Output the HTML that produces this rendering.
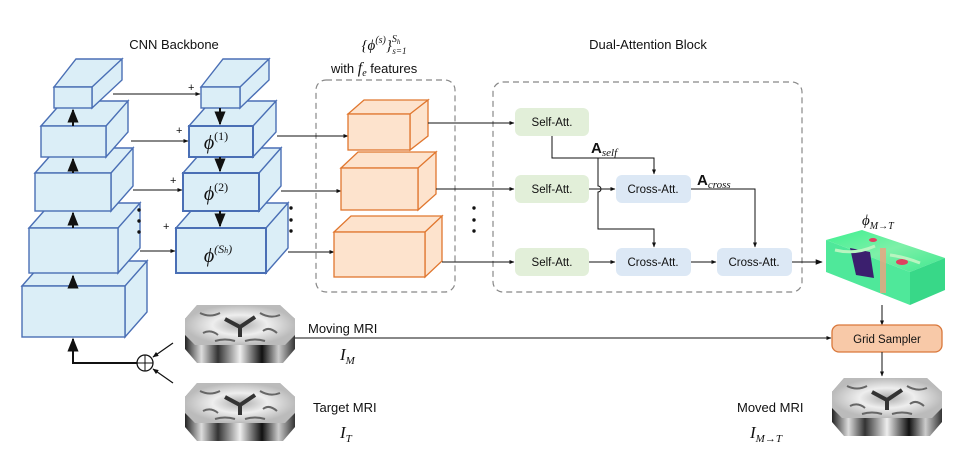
<!DOCTYPE html>
<html><head><meta charset="utf-8"><style>
html,body{margin:0;padding:0;background:#fff;}
svg{display:block;}
text{font-family:"Liberation Sans",sans-serif;fill:#111;}
.m{font-family:"Liberation Serif",serif;font-style:italic;}
</style></head><body>
<svg width="970" height="453" viewBox="0 0 970 453" xmlns="http://www.w3.org/2000/svg">
<defs>
<marker id="a" viewBox="0 0 10 10" refX="9" refY="5" markerWidth="7" markerHeight="7" orient="auto"><path d="M0,1 L10,5 L0,9 z" fill="#111"/></marker>
<marker id="b" viewBox="0 0 10 10" refX="9" refY="5" markerWidth="5" markerHeight="5" orient="auto"><path d="M0,1 L10,5 L0,9 z" fill="#111"/></marker>
<linearGradient id="side" x1="0" x2="1"><stop offset="0" stop-color="#222"/><stop offset=".15" stop-color="#ddd"/><stop offset=".3" stop-color="#333"/><stop offset=".5" stop-color="#eee"/><stop offset=".7" stop-color="#111"/><stop offset=".85" stop-color="#ccc"/><stop offset="1" stop-color="#333"/></linearGradient>
<radialGradient id="top"><stop offset="0" stop-color="#aaa"/><stop offset=".5" stop-color="#eee"/><stop offset="1" stop-color="#bbb"/></radialGradient>
<linearGradient id="flow" x1="0" y1="0" x2="1" y2="1"><stop offset="0" stop-color="#3df090"/><stop offset=".5" stop-color="#7ef0a8"/><stop offset="1" stop-color="#40e890"/></linearGradient>
<g id="brain">
<path d="M12,0 H95 L110,14 V44 L98,58 H12 L0,44 V14 Z" fill="url(#side)"/>
<path d="M12,0 H95 L110,14 V30 L100,40 H10 L0,30 V14 Z" fill="url(#top)"/>
<path d="M40,14 L55,22 L70,12 M55,22 L55,32" stroke="#333" stroke-width="4" fill="none"/>
<path d="M15,8 q10,5 20,0 M75,8 q10,6 20,2 M18,28 q8,-4 15,2 M78,26 q6,-5 14,2 M30,36 q10,-3 20,0 M60,36 q10,-3 20,0" stroke="#666" stroke-width="2" fill="none"/>
</g>
</defs>

<!-- titles -->
<text x="174" y="49" font-size="13" text-anchor="middle">CNN Backbone</text>
<text x="384" y="50" font-size="15" text-anchor="middle" class="m">{ϕ<tspan font-size="10" dy="-7">(s)</tspan><tspan dy="7">}</tspan><tspan font-size="10" dy="-8">S</tspan><tspan font-size="7" dy="2">h</tspan><tspan font-size="9" dx="-8" dy="10">s=1</tspan></text>
<text x="331" y="73" font-size="13">with <tspan class="m" font-size="16">f</tspan><tspan class="m" font-size="10" dy="3">e</tspan><tspan dy="-3"> features</tspan></text>
<text x="648" y="49" font-size="13" text-anchor="middle">Dual-Attention Block</text>

<!-- cubes -->
<g fill="#dbeef7" stroke="#4a6fb5" stroke-width="1.4">
<!-- left column (bottom first) -->
<path d="M22,286 L44,261 L147,261 L125,286 Z M125,286 L147,261 V312 L125,337 Z"/><rect x="22" y="286" width="103" height="51"/>
<path d="M29,228 L51,203 L140,203 L118,228 Z M118,228 L140,203 V248 L118,273 Z"/><rect x="29" y="228" width="89" height="45"/>
<path d="M35,173 L57,148 L133,148 L111,173 Z M111,173 L133,148 V186 L111,211 Z"/><rect x="35" y="173" width="76" height="38"/>
<path d="M41,126 L63,101 L128,101 L106,126 Z M106,126 L128,101 V132 L106,157 Z"/><rect x="41" y="126" width="65" height="31"/>
<path d="M54,87 L76,59 L122,59 L92,87 Z M92,87 L122,59 V80 L92,108 Z"/><rect x="54" y="87" width="38" height="21"/>
<!-- right column (bottom first) -->
<path d="M176,228 L198,203 L288,203 L266,228 Z M266,228 L288,203 V248 L266,273 Z"/><rect x="176" y="228" width="90" height="45" stroke-width="2"/>
<path d="M183,173 L205,148 L281,148 L259,173 Z M259,173 L281,148 V186 L259,211 Z"/><rect x="183" y="173" width="76" height="38" stroke-width="2"/>
<path d="M189,126 L211,101 L276,101 L253,126 Z M253,126 L276,101 V132 L253,157 Z"/><rect x="189" y="126" width="64" height="31" stroke-width="2"/>
<path d="M201,87 L223,59 L269,59 L240,87 Z M240,87 L269,59 V80 L240,108 Z"/><rect x="201" y="87" width="39" height="21"/>
</g>
<g font-size="20" class="m" text-anchor="middle"><text x="216" y="149" class="m">ϕ<tspan font-size="12" dy="-9" font-style="normal">(1)</tspan></text>
<text x="216" y="200" class="m">ϕ<tspan font-size="12" dy="-9" font-style="normal">(2)</tspan></text>
<text x="218" y="262" class="m">ϕ<tspan font-size="12" dy="-9">(S<tspan font-size="8">h</tspan>)</tspan></text></g>

<!-- backbone arrows -->
<g stroke="#111" stroke-width="2" marker-end="url(#a)">
<line x1="73" y1="286" x2="73" y2="276"/><line x1="73" y1="228" x2="73" y2="213"/><line x1="73" y1="173" x2="73" y2="159"/><line x1="73" y1="126" x2="73" y2="110"/>
<line x1="220" y1="108" x2="220" y2="124"/><line x1="220" y1="157" x2="220" y2="171"/><line x1="220" y1="211" x2="220" y2="226"/>
</g>
<g stroke="#111" stroke-width="1" marker-end="url(#b)">
<line x1="113" y1="94" x2="200" y2="94"/><line x1="131" y1="141" x2="188" y2="141"/><line x1="133" y1="190" x2="182" y2="190"/><line x1="140" y1="251" x2="175" y2="251"/>
</g>
<g font-size="11"><text x="188" y="91">+</text><text x="176" y="134">+</text><text x="170" y="184">+</text><text x="163" y="230">+</text></g>
<g fill="#111"><circle cx="139" cy="210" r="1.7"/><circle cx="139" cy="221" r="1.7"/><circle cx="139" cy="232" r="1.7"/>
<circle cx="291" cy="208" r="1.7"/><circle cx="291" cy="220" r="1.7"/><circle cx="291" cy="231" r="1.7"/>
<circle cx="474" cy="208" r="1.7"/><circle cx="474" cy="220" r="1.7"/><circle cx="474" cy="231" r="1.7"/></g>

<!-- dashed boxes -->
<rect x="316" y="80" width="139" height="212" rx="10" fill="none" stroke="#888" stroke-width="1.2" stroke-dasharray="6,4"/>
<rect x="493" y="82" width="309" height="210" rx="10" fill="none" stroke="#888" stroke-width="1.2" stroke-dasharray="6,4"/>

<!-- lines to orange -->
<g stroke="#111" stroke-width="1"><line x1="277" y1="136" x2="348" y2="136" marker-end="url(#b)"/><line x1="281" y1="191" x2="341" y2="191" marker-end="url(#b)"/><line x1="288" y1="252" x2="334" y2="252" marker-end="url(#b)"/></g>
<!-- orange cubes -->
<g fill="#fde3cd" stroke="#e0772f" stroke-width="1.3">
<path d="M334,232 L351,216 L442,216 L425,232 Z M425,232 L442,216 V261 L425,277 Z"/><rect x="334" y="232" width="91" height="45"/>
<path d="M341,168 L358,152 L436,152 L418,168 Z M418,168 L436,152 V194 L418,210 Z"/><rect x="341" y="168" width="77" height="42"/>
<path d="M348,114 L364,100 L428,100 L410,114 Z M410,114 L428,100 V136 L410,150 Z"/><rect x="348" y="114" width="62" height="36"/>
</g>
<g stroke="#111" stroke-width="1" fill="none">
<line x1="428" y1="123" x2="514" y2="123" marker-end="url(#b)"/>
<line x1="436" y1="189" x2="514" y2="189" marker-end="url(#b)"/>
<line x1="442" y1="262" x2="514" y2="262" marker-end="url(#b)"/>
<path d="M552,136 V158 H654 V174" marker-end="url(#b)"/>
<path d="M598,158 V186 a3,3 0 0 1 0,6 V229 H654 V247" marker-end="url(#b)"/>
<line x1="589" y1="189" x2="615" y2="189" marker-end="url(#b)"/>
<path d="M691,189 H755 V247" marker-end="url(#b)"/>
<line x1="589" y1="262" x2="615" y2="262" marker-end="url(#b)"/>
<line x1="691" y1="262" x2="716" y2="262" marker-end="url(#b)"/>
<line x1="792" y1="262" x2="822" y2="262" marker-end="url(#a)"/>
</g>
<g font-size="11.5" text-anchor="middle">
<rect x="515" y="108" width="74" height="28" rx="6" fill="#e2efd9"/><text x="552" y="126">Self-Att.</text>
<rect x="515" y="175" width="74" height="28" rx="6" fill="#e2efd9"/><text x="552" y="193">Self-Att.</text>
<rect x="515" y="248" width="74" height="28" rx="6" fill="#e2efd9"/><text x="552" y="266">Self-Att.</text>
<rect x="616" y="175" width="75" height="28" rx="6" fill="#dce8f5"/><text x="653" y="193">Cross-Att.</text>
<rect x="616" y="248" width="75" height="28" rx="6" fill="#dce8f5"/><text x="653" y="266">Cross-Att.</text>
<rect x="717" y="248" width="75" height="28" rx="6" fill="#dce8f5"/><text x="754" y="266">Cross-Att.</text>
</g>
<text x="591" y="153" font-size="15" font-family="Liberation Serif" font-weight="bold">A<tspan class="m" font-weight="normal" font-size="11" dy="3">self</tspan></text>
<text x="697" y="185" font-size="15" font-family="Liberation Serif" font-weight="bold">A<tspan class="m" font-weight="normal" font-size="11" dy="3">cross</tspan></text>

<!-- flow map -->
<text x="862" y="225" font-size="15" class="m">ϕ<tspan font-size="10" dy="4">M→T</tspan></text>
<path d="M826,240 L862,230 L945,258 L910,272 Z" fill="url(#flow)"/>
<path d="M826,240 L910,272 V305 L826,272 Z" fill="#4fe89a"/>
<path d="M910,272 L945,258 V290 L910,305 Z" fill="#38d888"/>
<path d="M850,248 L870,252 L874,278 L856,275 Z" fill="#3b1f6e"/>
<rect x="880" y="248" width="6" height="45" fill="#f0a080" opacity=".8"/>
<ellipse cx="902" cy="262" rx="6" ry="3" fill="#e04060"/><ellipse cx="873" cy="240" rx="4" ry="2" fill="#e04060"/>
<path d="M835,250 q20,5 40,-4 M890,255 q15,2 30,8" stroke="#b8f5c0" stroke-width="3" fill="none"/>

<!-- grid sampler -->
<line x1="882" y1="305" x2="882" y2="325" stroke="#111" marker-end="url(#b)"/>
<rect x="832" y="325" width="110" height="27" rx="7" fill="#f8c9a8" stroke="#d9773a" stroke-width="1.3"/>
<text x="887" y="343" font-size="11.5" text-anchor="middle">Grid Sampler</text>
<line x1="882" y1="352" x2="882" y2="376" stroke="#111" marker-end="url(#b)"/>

<!-- MRIs -->
<use href="#brain" x="185" y="305"/>
<use href="#brain" x="185" y="383"/>
<use href="#brain" x="832" y="378"/>
<line x1="295" y1="338" x2="831" y2="338" stroke="#111" stroke-width="1" marker-end="url(#b)"/>
<text x="308" y="333" font-size="13">Moving MRI</text>
<text x="340" y="360" font-size="17" class="m">I<tspan font-size="11" dy="4">M</tspan></text>
<text x="313" y="412" font-size="13">Target MRI</text>
<text x="340" y="438" font-size="17" class="m">I<tspan font-size="11" dy="4">T</tspan></text>
<text x="737" y="412" font-size="13">Moved MRI</text>
<text x="750" y="438" font-size="17" class="m">I<tspan font-size="11" dy="4">M→T</tspan></text>

<!-- plus circle -->
<circle cx="145" cy="363" r="8" fill="#fff" stroke="#111" stroke-width="1.3"/>
<line x1="137" y1="363" x2="153" y2="363" stroke="#111"/><line x1="145" y1="355" x2="145" y2="371" stroke="#111"/>
<path d="M137,363 H73 V339" stroke="#111" stroke-width="2" fill="none" marker-end="url(#a)"/>
<line x1="173" y1="343" x2="153" y2="357" stroke="#111" stroke-width="1.2" marker-end="url(#b)"/>
<line x1="173" y1="383" x2="153" y2="369" stroke="#111" stroke-width="1.2" marker-end="url(#b)"/>
</svg>
</body></html>
